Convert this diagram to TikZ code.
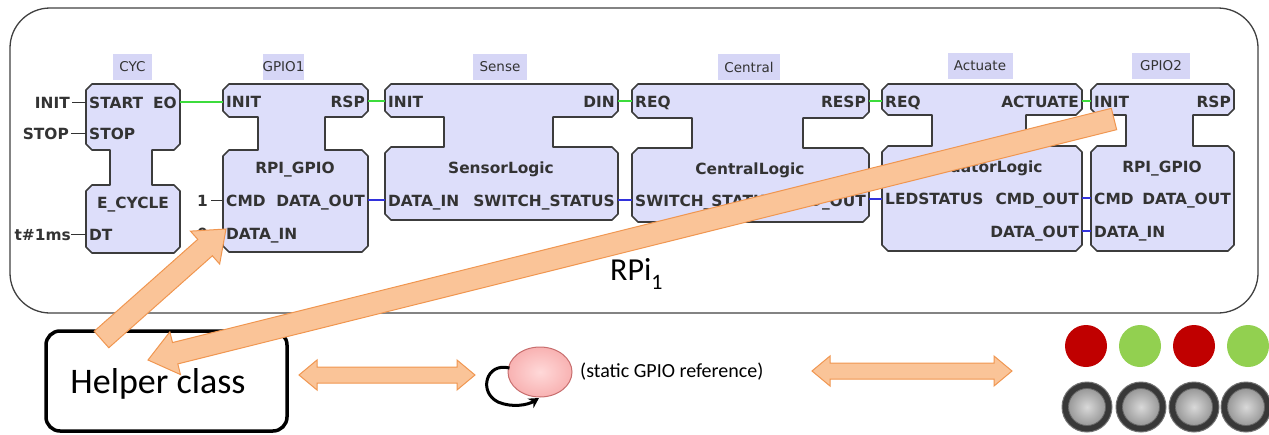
\documentclass[tikz,border=0pt]{standalone}
\usepackage{fontspec}
\setmainfont{Carlito}
\newfontfamily\portfont{DejaVu Sans}
\newfontfamily\portbold{DejaVu Sans Bold}
\usetikzlibrary{calc,shapes.geometric,arrows.meta}
\definecolor{fbfill}{RGB}{221,222,250}
\definecolor{fbline}{RGB}{60,60,60}
\definecolor{lblfill}{RGB}{214,214,246}
\definecolor{evgreen}{RGB}{60,220,60}
\definecolor{datblue}{RGB}{50,50,220}
\definecolor{orfill}{RGB}{250,196,152}
\definecolor{orline}{RGB}{240,150,80}
\definecolor{ledred}{RGB}{192,0,0}
\definecolor{ledgreen}{RGB}{146,208,80}
\definecolor{pinkfill}{RGB}{248,178,178}
\definecolor{pinkline}{RGB}{200,110,110}
\tikzset{
  fbshape/.style={fill=fbfill, draw=fbline, line width=1.6pt, line join=round},
  fblabel/.style={fill=lblfill, inner sep=0pt, minimum height=26pt, font=\portfont\fontsize{13.5}{13.5}\selectfont, text=black!80},
  port/.style={font=\portbold\fontsize{15.4}{15.4}\selectfont, inner sep=0pt, text=black!80},
  evline/.style={draw=evgreen, line width=1.2pt},
  datline/.style={draw=datblue, line width=1.2pt},
  constline/.style={draw=black!80, line width=1pt},
  orarrow/.style={fill=orfill, draw=orline, line width=1pt, line join=miter},
  outerbox/.style={draw=black!75, line width=1.3pt, rounded corners=40pt},
  helperbox/.style={draw=black, line width=3.5pt, rounded corners=14pt, minimum width=241pt, minimum height=100pt, inner sep=0pt},
  led/.style={circle, minimum size=42pt, inner sep=0pt},
  btnouter/.style={circle, minimum size=50pt, inner sep=0pt, fill=black!78, draw=black!55, line width=1pt},
  btninner/.style={circle, minimum size=37pt, inner sep=0pt, inner color=gray!30, outer color=gray!80, draw=black!60, line width=0.8pt},
  loopar/.style={draw=black, line width=3pt, -{Stealth[length=10pt,width=11pt]}},
}
\newcommand\fbblock[8]{%
  \draw[fbshape] (#1+6,#3) -- (#2-6,#3) -- (#2,#3+6) -- (#2,#4-6) -- (#2-6,#4) -- (#6,#4) -- (#6,#7) -- (#2-6,#7) -- (#2,#7+6) -- (#2,#8-6) -- (#2-6,#8) -- (#1+6,#8) -- (#1,#8-6) -- (#1,#7+6) -- (#1+6,#7) -- (#5,#7) -- (#5,#4) -- (#1+6,#4) -- (#1,#4-6) -- (#1,#3+6) -- cycle;}
\newcommand\blockarrow[5]{% tail, head, shaft half, head half, head length
  \coordinate (ba-base) at ($(#2)!#5!(#1)$);
  \draw[orarrow] ($(#1)!#3!90:(#2)$) -- ($(ba-base)!#3!-90:(#1)$) -- ($(ba-base)!#4!-90:(#1)$) -- (#2) -- ($(ba-base)!#4!90:(#1)$) -- ($(ba-base)!#3!90:(#1)$) -- ($(#1)!#3!-90:(#2)$) -- cycle;}
\newcommand\dblarrow[5]{% end A, end B, shaft half, head half, head length
  \coordinate (da-a) at ($(#1)!#5!(#2)$);
  \coordinate (da-b) at ($(#2)!#5!(#1)$);
  \draw[orarrow] (#1) -- ($(da-a)!#4!90:(#2)$) -- ($(da-a)!#3!90:(#2)$) -- ($(da-b)!#3!-90:(#1)$) -- ($(da-b)!#4!-90:(#1)$) -- (#2) -- ($(da-b)!#4!90:(#1)$) -- ($(da-b)!#3!90:(#1)$) -- ($(da-a)!#3!-90:(#2)$) -- ($(da-a)!#4!-90:(#2)$) -- cycle;}
\begin{document}
\begin{tikzpicture}[x=1pt,y=-1pt]
\useasboundingbox (0,0) rectangle (1269,434);
% outer RPi box
\draw[outerbox] (10,8) rectangle (1258,313);
\node[anchor=base west, font=\fontsize{32}{32}\selectfont, inner sep=0pt] (rpilabel) at (610,280) {RPi\raisebox{-9pt}{\fontsize{22}{22}\selectfont 1}};

% labels above blocks
\node[fblabel, minimum width=39pt] (lcyc) at (132.5,67) {CYC};
\node[fblabel, minimum width=40pt] (lg1) at (283.5,67) {GPIO1};
\node[fblabel, minimum width=54pt] (lsense) at (500,67) {Sense};
\node[fblabel, minimum width=62pt] (lcentral) at (749,67) {Central};
\node[fblabel, minimum width=65pt] (lact) at (980,66) {Actuate};
\node[fblabel, minimum width=58pt] (lg2) at (1161,66) {GPIO2};

% function blocks
\fbblock{86}{180}{84}{150}{110}{152}{185}{253}
\fbblock{223}{368}{84}{117}{258}{325}{150}{252}
\fbblock{385}{618}{84}{117}{444}{553}{147}{220}
\fbblock{632}{869}{84}{118}{692}{803}{148}{222}
\fbblock{882}{1082}{84}{115}{932}{1026}{146}{251}
\fbblock{1091}{1234}{84}{115}{1126}{1193}{146}{251}

% CYC texts
\node[port, anchor=base west] (cycstart) at (89,108) {START};
\node[port, anchor=base east] (cyceo) at (177,108) {EO};
\node[port, anchor=base west] (cycstop) at (89,139) {STOP};
\node[port, anchor=base] (cyctype) at (133,208) {E\_CYCLE};
\node[port, anchor=base west] (cycdt) at (89,240) {DT};
\node[port, anchor=base east] (kinit) at (70,108) {INIT};
\node[port, anchor=base east] (kstop) at (69,139) {STOP};
\node[port, anchor=base east] (kdt) at (71,240) {t\#1ms};
% GPIO1 texts
\node[port, anchor=base west] (g1init) at (226,107) {INIT};
\node[port, anchor=base east] (g1rsp) at (365,107) {RSP};
\node[port, anchor=base] (g1type) at (295,173) {RPI\_GPIO};
\node[port, anchor=base west] (g1cmd) at (226,206) {CMD};
\node[port, anchor=base east] (g1out) at (365,206) {DATA\_OUT};
\node[port, anchor=base west] (g1in) at (226,239) {DATA\_IN};
\node[port, anchor=base east] (kone) at (208,206) {1};
\node[port, anchor=base east] (kzero) at (208,239) {0};
% Sense texts
\node[port, anchor=base west] (seinit) at (388,107) {INIT};
\node[port, anchor=base east] (sedin) at (615,107) {DIN};
\node[port, anchor=base] (setype) at (501,173) {SensorLogic};
\node[port, anchor=base west] (sein) at (388,206) {DATA\_IN};
\node[port, anchor=base east] (seout) at (615,206) {SWITCH\_STATUS};
% Central texts
\node[port, anchor=base west] (cereq) at (635,107) {REQ};
\node[port, anchor=base east] (ceresp) at (866,107) {RESP};
\node[port, anchor=base] (cetype) at (750,174) {CentralLogic};
\node[port, anchor=base west] (cein) at (635,206) {SWITCH\_STATUS};
\node[port, anchor=base east] (ceout) at (866,206) {LED\_OUT};
% Actuate texts
\node[port, anchor=base west] (acreq) at (885,107) {REQ};
\node[port, anchor=base east] (acact) at (1079,107) {ACTUATE};
\node[port, anchor=base] (actype) at (982,172) {ActuatorLogic};
\node[port, anchor=base west] (acin) at (885,204) {LEDSTATUS};
\node[port, anchor=base east] (accmd) at (1079,204) {CMD\_OUT};
\node[port, anchor=base east] (acout) at (1079,237) {DATA\_OUT};
% GPIO2 texts
\node[port, anchor=base west] (g2init) at (1094,107) {INIT};
\node[port, anchor=base east] (g2rsp) at (1231,107) {RSP};
\node[port, anchor=base] (g2type) at (1162,172) {RPI\_GPIO};
\node[port, anchor=base west] (g2cmd) at (1094,204) {CMD};
\node[port, anchor=base east] (g2out) at (1231,204) {DATA\_OUT};
\node[port, anchor=base west] (g2in) at (1094,237) {DATA\_IN};

% port coordinates
\coordinate (p-cyc-start) at (86,102);
\coordinate (p-cyc-stop) at (86,133);
\coordinate (p-cyc-dt) at (86,234);
\coordinate (p-cyc-eo) at (180,102);
\coordinate (p-g1-init) at (223,102);
\coordinate (p-g1-rsp) at (368,101);
\coordinate (p-g1-cmd) at (223,200);
\coordinate (p-g1-in) at (223,233);
\coordinate (p-g1-out) at (368,200);
\coordinate (p-se-init) at (385,101);
\coordinate (p-se-din) at (618,101);
\coordinate (p-se-in) at (385,200);
\coordinate (p-se-out) at (618,200);
\coordinate (p-ce-req) at (632,101);
\coordinate (p-ce-resp) at (869,101);
\coordinate (p-ce-in) at (632,200);
\coordinate (p-ce-out) at (869,199);
\coordinate (p-ac-req) at (882,101);
\coordinate (p-ac-act) at (1082,101);
\coordinate (p-ac-in) at (882,199);
\coordinate (p-ac-cmd) at (1082,198);
\coordinate (p-ac-out) at (1082,231);
\coordinate (p-g2-init) at (1091,101);
\coordinate (p-g2-cmd) at (1091,198);
\coordinate (p-g2-in) at (1091,231);

% constants
\draw[constline] ($(kinit.base east)+(2,-6)$) -- (p-cyc-start);
\draw[constline] ($(kstop.base east)+(2,-6)$) -- (p-cyc-stop);
\draw[constline] ($(kdt.base east)+(0,-6)$) -- (p-cyc-dt);
\draw[constline] ($(kone.base east)+(3,-6)$) -- (p-g1-cmd);
\draw[constline] ($(kzero.base east)+(3,-6)$) -- (p-g1-in);

% event connections
\draw[evline] (p-cyc-eo) -- (p-g1-init);
\draw[evline] (p-g1-rsp) -- (p-se-init);
\draw[evline] (p-se-din) -- (p-ce-req);
\draw[evline] (p-ce-resp) -- (p-ac-req);
\draw[evline] (p-ac-act) -- (p-g2-init);
% data connections
\draw[datline] (p-g1-out) -- (p-se-in);
\draw[datline] (p-se-out) -- (p-ce-in);
\draw[datline] (p-ce-out) -- (p-ac-in);
\draw[datline] (p-ac-cmd) -- (p-g2-cmd);
\draw[datline] (p-ac-out) -- (p-g2-in);

% bottom row
\node[helperbox] (helper) at (166.5,381) {};
\node[anchor=base, font=\fontsize{36}{36}\selectfont, inner sep=0pt] (helpertext) at (158,393) {Helper class};

\node[ellipse, minimum width=64pt, minimum height=50pt, inner sep=0pt, inner color=red!15, outer color=pinkfill, draw=pinkline, line width=1pt] (gpioref) at (540,372) {};
\draw[loopar] ($(gpioref.west)+(2,-4)$) .. controls (486,362) and (478,392) .. (498,402) .. controls (512,408) and (528,405) .. (539,398);
\node[anchor=west, font=\fontsize{20}{20}\selectfont, inner sep=0pt] (reftext) at (580,372) {(static GPIO reference)};

\coordinate (da1l) at (299,375);
\coordinate (da1r) at (475,375);
\dblarrow{da1l}{da1r}{8pt}{15pt}{18pt}
\coordinate (da2l) at (812,371);
\coordinate (da2r) at (1012,371);
\dblarrow{da2l}{da2r}{8pt}{15pt}{18pt}

\node[led, fill=ledred] (led1) at (1086,346) {};
\node[led, fill=ledgreen] (led2) at (1140,346) {};
\node[led, fill=ledred] (led3) at (1194,346) {};
\node[led, fill=ledgreen] (led4) at (1248,346) {};
\foreach \i/\x in {1/1087,2/1141,3/1194,4/1246}{
  \node[btnouter] (btn\i) at (\x,407) {};
  \node[btninner] (btnin\i) at (btn\i) {};
}

% big orange arrows
\coordinate (atail) at (101.5,339.5);
\coordinate (ahead) at (226,229);
\blockarrow{atail}{ahead}{11pt}{22pt}{28pt}
\coordinate (btail) at (1114,119);
\coordinate (bhead) at (148,360);
\blockarrow{btail}{bhead}{11pt}{22pt}{28pt}
\end{tikzpicture}
\end{document}
